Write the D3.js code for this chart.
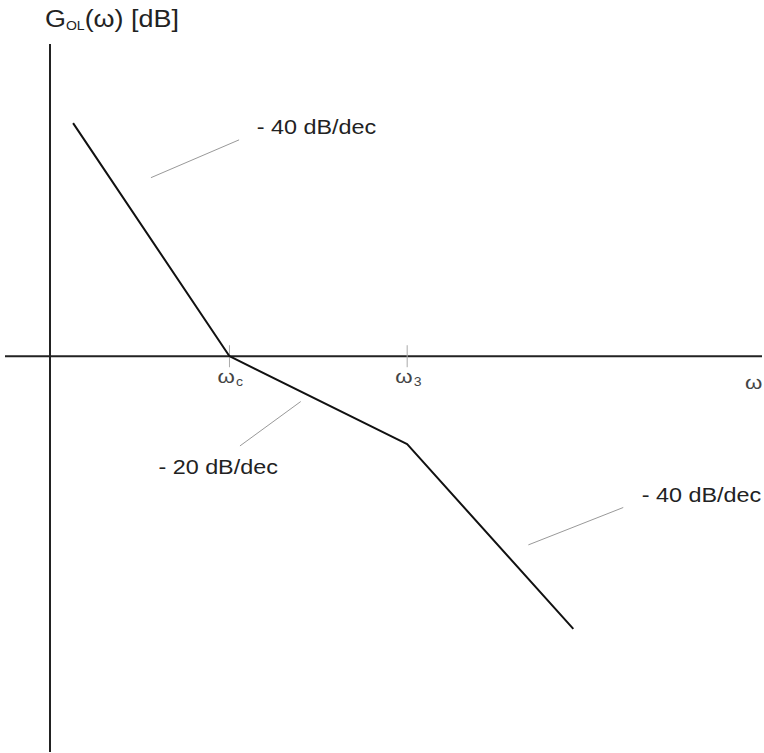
<!DOCTYPE html>
<html>
<head>
<meta charset="utf-8">
<script src="https://cdn.jsdelivr.net/npm/d3@7"></script>
<style>
  html, body { margin: 0; padding: 0; background: #fff; }
  svg { display: block; }
  text  { font-family: Arial, "Liberation Sans", sans-serif; }
  .ann  { font-size: 20.5px; fill: #222; }
  .wlab { fill: #444; }
</style>
</head>
<body>
<div id="chart"></div>
<script>
// ── data (x: decades from the G axis, y: dB) ─────────────────────────
const breakNames  = ['c', '3'];            // subscripts of the corner frequencies
const breakFreqs  = [1.01, 2.01];
const curveW      = [0.13, 1.01, 2.01, 2.945];
const curveG      = [53, 0, -20, -62];

const slopeLabels = ['- 40 dB/dec', '- 20 dB/dec', '- 40 dB/dec'];
const leaderFrom  = [[0.568, 40.6], [1.069, -20.4], [2.692, -42.9]];
const leaderTo    = [[1.064, 49.2], [1.411, -10.3], [3.226, -34.4]];
const labelAt     = [[1.163, 50.5], [0.61, -26.7], [3.33, -33.1]];

const W = 764, H = 753;
const SX = 1.17;   // the original artwork is stretched horizontally
const SX_ANN = 1.14;

const svg = d3.select('#chart').append('svg')
  .attr('width', W).attr('height', H);

const x = d3.scaleLinear().domain([0, 4]).range([50, 50 + 4 * 177.7]);
const y = d3.scaleLinear().domain([-90, 71]).range([752, 44]);

const place = (px, py, s = SX) => `translate(${px},${py}) scale(${s},1)`;

/* --- axes ---------------------------------------------------------- */
svg.append('line')
  .attr('x1', x(0)).attr('x2', x(0))
  .attr('y1', y(71)).attr('y2', y(-90))
  .attr('stroke', '#222').attr('stroke-width', 2);

svg.append('line')
  .attr('x1', 5).attr('x2', 762)
  .attr('y1', y(0)).attr('y2', y(0))
  .attr('stroke', '#222').attr('stroke-width', 2);

/* --- corner frequency ticks ------------------------------------- */
svg.append('g').selectAll('line')
  .data(breakFreqs).join('line')
  .attr('x1', d => x(d)).attr('x2', d => x(d))
  .attr('y1', y(0) - 11).attr('y2', y(0) + 11)
  .attr('stroke', '#aaa').attr('stroke-width', 1);

const wl = svg.append('g').selectAll('text')
  .data(breakFreqs).join('text')
  .attr('class', 'wlab')
  .attr('transform', d => place(x(d) - 12, y(0) + 27))
  .attr('font-size', 19);
wl.append('tspan').text('ω');
wl.append('tspan')
  .attr('font-size', 12).attr('dy', 3).attr('dx', 1)
  .text((d, i) => breakNames[i]);

/* axis label ω */
svg.append('text')
  .attr('class', 'wlab')
  .attr('transform', place(745, y(0) + 33))
  .attr('font-size', 19)
  .text('ω');

/* --- title ------------------------------------------------------- */
const t = svg.append('text')
  .attr('transform', place(45, 27))
  .attr('font-size', 23).attr('fill', '#222');
t.append('tspan').text('G');
t.append('tspan').attr('font-size', 12).attr('dy', 3).text('OL');
t.append('tspan').attr('dy', -3).text('(ω) [dB]');

/* --- leader lines + slope labels -------------------------------- */
svg.append('g').selectAll('line')
  .data(leaderFrom).join('line')
  .attr('x1', d => x(d[0])).attr('y1', d => y(d[1]))
  .attr('x2', (d, i) => x(leaderTo[i][0])).attr('y2', (d, i) => y(leaderTo[i][1]))
  .attr('stroke', '#999').attr('stroke-width', 1);

svg.append('g').selectAll('text')
  .data(slopeLabels).join('text')
  .attr('class', 'ann')
  .attr('transform', (d, i) => place(x(labelAt[i][0]), y(labelAt[i][1]), SX_ANN))
  .text(d => d);

/* --- asymptotic magnitude curve ---------------------------------- */
const pts = curveW.map((w, i) => [w, curveG[i]]);
svg.append('path')
  .datum(pts)
  .attr('fill', 'none')
  .attr('stroke', '#111')
  .attr('stroke-width', 2)
  .attr('stroke-linejoin', 'round')
  .attr('d', d3.line().x(d => x(d[0])).y(d => y(d[1])));
</script>
</body>
</html>
